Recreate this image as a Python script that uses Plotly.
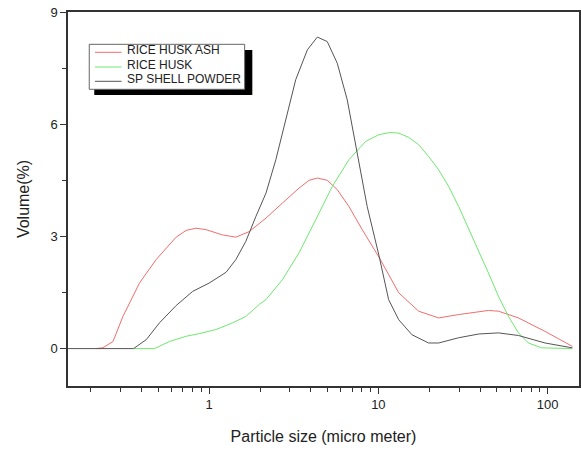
import plotly.graph_objects as go

# ---- data ----
ash_x = [0.214, 0.236, 0.271, 0.310, 0.389, 0.487, 0.639, 0.732, 0.838, 0.96, 1.20, 1.44, 1.73,
         2.17, 2.71, 3.40, 3.90, 4.36, 4.99, 5.72, 6.70, 8.03, 10.07, 13.2, 17.3, 22.7, 29.8,
         44.7, 51.2, 67.2, 96.5, 140]
ash_y = [0, 0.02, 0.19, 0.86, 1.76, 2.38, 2.98, 3.16, 3.22, 3.18, 3.04, 2.98, 3.13,
         3.49, 3.89, 4.29, 4.50, 4.56, 4.50, 4.25, 3.80, 3.18, 2.45, 1.49, 1.00, 0.82, 0.91,
         1.02, 1.00, 0.82, 0.46, 0.06]

husk_x = [0.358, 0.476, 0.584, 0.732, 0.877, 1.10, 1.38, 1.65, 1.98, 2.17, 2.71, 3.40, 4.27,
          5.35, 6.70, 8.41, 10.07, 11.8, 13.2, 15.1, 17.3, 19.8, 22.7, 26.0, 29.8, 34.1, 39.1,
          44.7, 51.2, 58.7, 67.2, 76.9, 92.2, 140]
husk_y = [0, 0, 0.19, 0.33, 0.40, 0.51, 0.69, 0.86, 1.18, 1.31, 1.84, 2.56, 3.45,
          4.34, 5.05, 5.54, 5.72, 5.78, 5.76, 5.65, 5.45, 5.14, 4.78, 4.34, 3.80, 3.22, 2.64,
          2.02, 1.40, 0.86, 0.42, 0.15, 0.02, 0]

shell_x = [0.147, 0.358, 0.426, 0.510, 0.639, 0.80, 1.00, 1.26, 1.44, 1.65, 1.89, 2.17, 2.48,
           2.84, 3.25, 3.81, 4.36, 4.99, 5.72, 6.55, 7.50, 8.59, 10.07, 11.5, 13.2, 15.8, 19.8,
           22.7, 29.8, 39.1, 51.2, 67.2, 96.5, 140]
shell_y = [0, 0, 0.24, 0.69, 1.15, 1.53, 1.75, 2.04, 2.38, 2.87, 3.53, 4.16, 5.05,
           6.12, 7.19, 7.99, 8.33, 8.21, 7.63, 6.65, 5.23, 3.80, 2.50, 1.31, 0.77, 0.37, 0.15,
           0.15, 0.29, 0.39, 0.42, 0.35, 0.15, 0.02]

series_names = ["RICE HUSK ASH", "RICE HUSK", "SP SHELL POWDER"]
series_colors = ["#f26d6d", "#6ee86e", "#555555"]

x_ticks = [1, 10, 100]
x_tick_labels = ["1", "10", "100"]
x_minor = [0.2, 0.3, 0.4, 0.5, 0.6, 0.7, 0.8, 0.9, 2, 3, 4, 5, 6, 7, 8, 9,
           20, 30, 40, 50, 60, 70, 80, 90]
y_ticks = [0, 3, 6, 9]
y_minor = [1.5, 4.5, 7.5]

FONT = "Arial, 'Liberation Sans', sans-serif"

fig = go.Figure()
for xs, ys, nm, col in zip([ash_x, husk_x, shell_x], [ash_y, husk_y, shell_y],
                           series_names, series_colors):
    fig.add_trace(go.Scatter(x=xs, y=ys, mode="lines", name=nm,
                             line=dict(color=col, width=1), showlegend=False))

axis_common = dict(showgrid=False, zeroline=False, showline=True, linecolor="#333333",
                   linewidth=1.5, mirror=True, ticks="outside", tickcolor="#333333",
                   tickwidth=1, ticklen=6, automargin=False,
                   tickfont=dict(family=FONT, size=13, color="#222222"))

fig.update_xaxes(type="log", range=[-0.833, 2.185], tickmode="array", tickvals=x_ticks,
                 ticktext=x_tick_labels,
                 minor=dict(tickmode="array", tickvals=x_minor, ticks="outside", ticklen=4,
                            tickcolor="#333333"),
                 title=dict(text="Particle size (micro meter)",
                            font=dict(family=FONT, size=16, color="#222222"), standoff=19),
                 **axis_common)
fig.update_yaxes(range=[-1, 9], tickmode="array", tickvals=y_ticks,
                 minor=dict(tickmode="array", tickvals=y_minor, ticks="outside", ticklen=4,
                            tickcolor="#333333"),
                 title=dict(text="Volume(%)", font=dict(family=FONT, size=16, color="#222222"),
                            standoff=17),
                 **axis_common)

# ---- legend box (drawn with a drop shadow like the original) ----
fig.add_shape(type="rect", xref="paper", yref="paper", x0=0.0514, x1=0.3607, y0=0.7781, y1=0.8984,
              fillcolor="black", line=dict(width=0), layer="above")
fig.add_shape(type="rect", xref="paper", yref="paper", x0=0.0416, x1=0.3457, y0=0.7933, y1=0.9136,
              fillcolor="white", line=dict(color="#666666", width=1), layer="above")
row_y = [0.8922, 0.8529, 0.8147]
for ry, nm, col in zip(row_y, series_names, series_colors):
    fig.add_shape(type="line", xref="paper", yref="paper", x0=0.0527, x1=0.1049, y0=ry, y1=ry,
                  line=dict(color=col, width=1), layer="above")
    fig.add_annotation(xref="paper", yref="paper", x=0.1113, y=ry + 0.006, text=nm,
                       showarrow=False, xanchor="left", yanchor="middle",
                       font=dict(family=FONT, size=12, color="#222222"))

fig.update_layout(
    width=581, height=451,
    margin=dict(l=68, r=2, t=12, b=65),
    paper_bgcolor="white", plot_bgcolor="white",
    font=dict(family=FONT, color="#222222"),
    showlegend=False,
)

fig.write_html("out.html", config={"displayModeBar": False},
               post_script="document.body.style.margin='0';document.body.style.overflow='hidden';")
